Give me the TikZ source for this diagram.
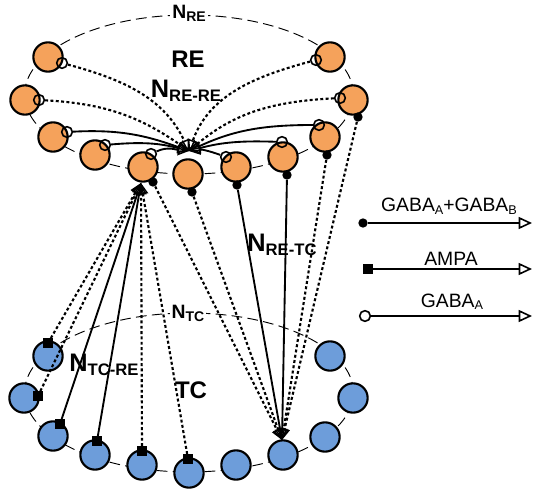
\documentclass[tikz,border=0pt]{standalone}
\usepackage{fontspec}
\setmainfont{Liberation Sans}
\usetikzlibrary{arrows.meta}
\definecolor{reorange}{HTML}{F5A25B}
\definecolor{tcblue}{HTML}{6D9DDA}
\newcommand{\labN}[4]{{\fontsize{#1pt}{#1pt}\selectfont #3}{\fontsize{#2pt}{#2pt}\selectfont\raisebox{-0.2em}{#4}}}
\newcommand{\subx}[2]{{\fontsize{#1pt}{#1pt}\selectfont\raisebox{-0.2em}{#2}}}
\tikzset{
  recell/.style={circle, draw, line width=1.6pt, fill=reorange, minimum size=22pt, inner sep=0pt},
  tccell/.style={circle, draw, line width=1.6pt, fill=tcblue, minimum size=22pt, inner sep=0pt},
  ring/.style={draw, line width=0.7pt, dash pattern=on 8pt off 4pt},
  syn/.style={line width=1.4pt},
  dots/.style={line width=1.6pt, dash pattern=on 2.2pt off 1.8pt},
  tip/.style={-{Triangle[open, length=8.5pt, width=8pt, line width=1.1pt]}},
  bigtip/.style={-{Triangle[open, length=10pt, width=9pt, line width=1.2pt]}},
  gA/.style={circle, draw, line width=1.2pt, minimum size=8pt, inner sep=0pt},
  gAB/.style={circle, fill, minimum size=7pt, inner sep=0pt},
  ampa/.style={rectangle, fill, minimum size=7pt, inner sep=0pt},
  lbl/.style={font=\bfseries, inner sep=0.5pt, anchor=base},
  legtxt/.style={inner sep=0pt, anchor=base},
}
\begin{document}
\begin{tikzpicture}[x=0.75pt,y=0.75pt]
\useasboundingbox (0,0) rectangle (533,-492);
% rings
\draw[ring] (189,-94.5) ellipse [x radius=164.4, y radius=79.5];
\draw[ring] (189,-392.5) ellipse [x radius=164.4, y radius=79.5];
% RE cells
\node[recell] (re1) at (48,-57) {};
\node[recell] (re2) at (25,-100) {};
\node[recell] (re3) at (53,-137) {};
\node[recell] (re4) at (95,-155) {};
\node[recell] (re5) at (143,-167) {};
\node[recell] (re6) at (188,-174) {};
\node[recell] (re7) at (236,-167) {};
\node[recell] (re8) at (283,-157) {};
\node[recell] (re9) at (325,-137) {};
\node[recell] (re10) at (353,-100) {};
\node[recell] (re11) at (330,-57) {};
% TC cells
\node[tccell] (tc1) at (48,-356) {};
\node[tccell] (tc2) at (24,-398) {};
\node[tccell] (tc3) at (53,-436) {};
\node[tccell] (tc4) at (95,-455) {};
\node[tccell] (tc5) at (142,-465) {};
\node[tccell] (tc6) at (189,-473) {};
\node[tccell] (tc7) at (236,-465) {};
\node[tccell] (tc8) at (283,-455) {};
\node[tccell] (tc9) at (325,-437) {};
\node[tccell] (tc10) at (353,-398) {};
\node[tccell] (tc11) at (330,-356) {};
% convergence points
\coordinate (tRR) at (189,-151);
\coordinate (tRT) at (282,-440);
\coordinate (tTR) at (141,-183);
% GABA_A markers on RE
\node[gA] (g1) at (62,-63) {};
\node[gA] (g2) at (39,-100) {};
\node[gA] (g3) at (67,-132) {};
\node[gA] (g4) at (105,-145) {};
\node[gA] (g5) at (151,-154) {};
\node[gA] (g7) at (226,-157) {};
\node[gA] (g8) at (282,-142) {};
\node[gA] (g9) at (319,-125) {};
\node[gA] (g10) at (340,-98) {};
\node[gA] (g11) at (316,-60) {};
% GABA_A+B markers on RE
\node[gAB] (d5) at (153,-182) {};
\node[gAB] (d6) at (192,-192) {};
\node[gAB] (d7) at (237,-185) {};
\node[gAB] (d8) at (287,-175) {};
\node[gAB] (d9) at (327,-155) {};
\node[gAB] (d10) at (358,-117) {};
% AMPA markers on TC
\node[ampa] (s1) at (48,-343) {};
\node[ampa] (s2) at (38,-396) {};
\node[ampa] (s3) at (60,-424) {};
\node[ampa] (s4) at (97,-441) {};
\node[ampa] (s5) at (142,-451) {};
\node[ampa] (s6) at (188,-459) {};
% RE -> RE
\draw[dots,tip] (g1) to[out=-15,in=115] (tRR);
\draw[dots,tip] (g2) to[out=-3,in=145] (tRR);
\draw[syn,tip] (g3) to[out=3,in=160] (tRR);
\draw[syn,tip] (g4) to[out=5,in=165] (tRR);
\draw[syn,tip] (g5) to[out=25,in=175] (tRR);
\draw[syn,tip] (g7) to[out=160,in=8] (tRR);
\draw[syn,tip] (g8) to[out=178,in=15] (tRR);
\draw[syn,tip] (g9) to[out=180,in=25] (tRR);
\draw[dots,tip] (g10) to[out=183,in=40] (tRR);
\draw[dots,tip] (g11) to[out=195,in=70] (tRR);
% RE -> TC
\draw[dots,tip] (d5) -- (tRT);
\draw[dots,tip] (d6) -- (tRT);
\draw[syn,tip] (d7) -- (tRT);
\draw[syn,tip] (d8) -- (tRT);
\draw[dots,tip] (d9) -- (tRT);
\draw[dots,tip] (d10) -- (tRT);
% TC -> RE
\draw[dots,tip] (s1) -- (tTR);
\draw[dots,tip] (s2) -- (tTR);
\draw[syn,tip] (s3) -- (tTR);
\draw[syn,tip] (s4) -- (tTR);
\draw[dots,tip] (s5) -- (tTR);
\draw[dots,tip] (s6) -- (tTR);
% labels
\node[lbl, fill=white, inner sep=1.5pt] (nre) at (189,-19) {\labN{14.5}{10.5}{N}{RE}};
\node[lbl] (relab) at (188,-68) {\fontsize{18pt}{18pt}\selectfont RE};
\node[lbl] (nrere) at (186,-98) {\labN{19}{12.5}{N}{RE-RE}};
\node[lbl] (nretc) at (282,-252) {\labN{19}{12.5}{N}{RE-TC}};
\node[lbl, fill=white, inner sep=1.5pt] (ntc) at (188,-319) {\labN{14.5}{10.5}{N}{TC}};
\node[lbl] (ntcre) at (104,-372) {\labN{19}{12.5}{N}{TC-RE}};
\node[lbl] (tclab) at (191,-398) {\fontsize{18pt}{18pt}\selectfont TC};
% legend
\node[gAB] (l1s) at (363,-223) {};
\coordinate (l1e) at (532,-223);
\draw[syn,bigtip] (l1s) -- (l1e);
\node[ampa] (l2s) at (368,-269) {};
\coordinate (l2e) at (532,-269);
\draw[syn,bigtip] (l2s) -- (l2e);
\node[gA] (l3s) at (365,-316) {};
\coordinate (l3e) at (532,-316);
\draw[syn,bigtip] (l3s) -- (l3e);
\node[legtxt] (l1t) at (449,-212) {\fontsize{14.5pt}{15pt}\selectfont GABA\subx{9.5}{A}+GABA\subx{9.5}{B}};
\node[legtxt] (l2t) at (451,-266) {\fontsize{14.5pt}{15pt}\selectfont AMPA};
\node[legtxt] (l3t) at (452,-307) {\fontsize{14.5pt}{15pt}\selectfont GABA\subx{9.5}{A}};
\end{tikzpicture}
\end{document}
